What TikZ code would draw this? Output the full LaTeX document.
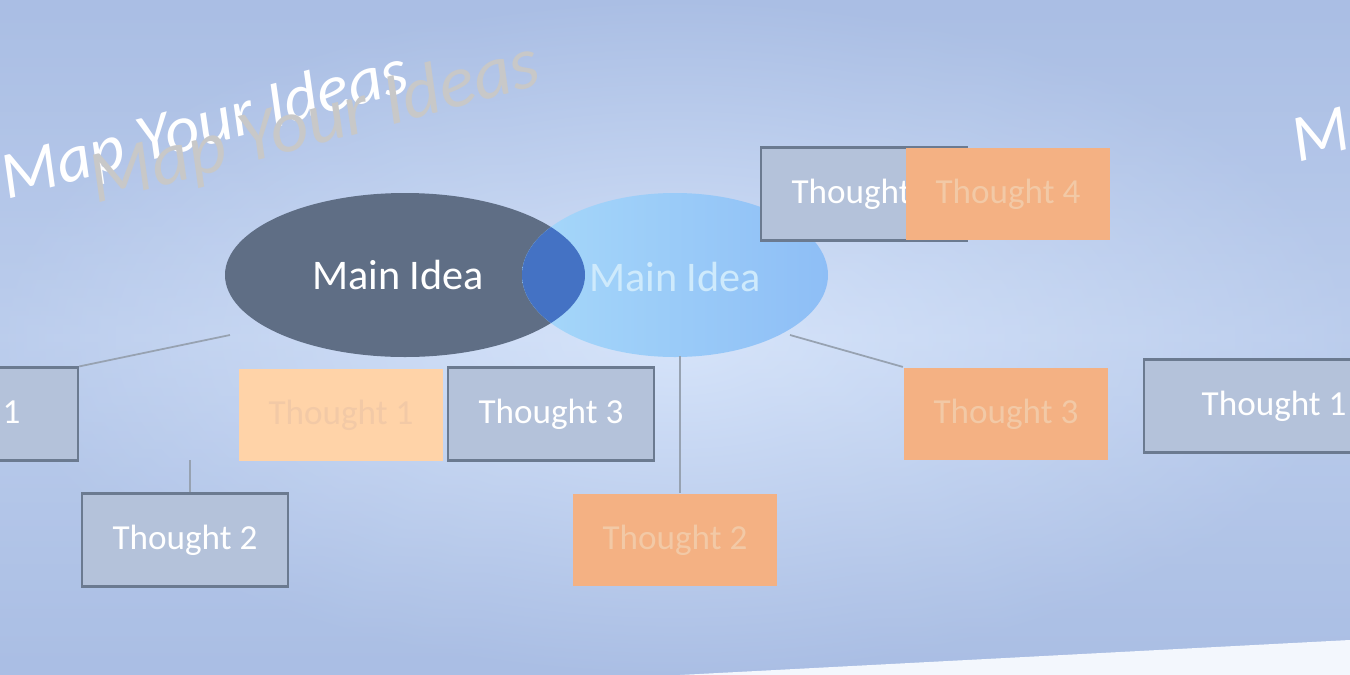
\documentclass[tikz,border=0pt]{standalone}
\usepackage{fontspec}
\setmainfont{Carlito}
\usetikzlibrary{positioning}
\definecolor{bgblue}{HTML}{AABEE4}
\definecolor{bglight}{HTML}{D6E4FA}
\definecolor{darkidea}{HTML}{5F6E85}
\definecolor{skyidea}{HTML}{A6D8FA}
\definecolor{skyidea2}{HTML}{8EBEF6}
\definecolor{overlap}{HTML}{4472C4}
\definecolor{boxgray}{HTML}{B4C2DA}
\definecolor{boxline}{HTML}{6B7A90}
\definecolor{orng}{HTML}{F4B183}
\definecolor{orngl}{HTML}{FFD3A8}
\definecolor{orngtxt}{HTML}{F2C9A6}
\definecolor{titlegray}{HTML}{C8C8C8}
\begin{document}
\begin{tikzpicture}[x=0.01cm,y=-0.01cm,line width=0.6pt,
  gbox/.style={draw=boxline,fill=boxgray,minimum width=2.06cm,minimum height=0.93cm,font=\fontsize{10}{10}\selectfont,text=white},
  obox/.style={fill=orng,minimum width=2.04cm,minimum height=0.92cm,font=\fontsize{10}{10}\selectfont,text=orngtxt},
  link/.style={draw=boxline!70,line width=0.5pt}]
\useasboundingbox (0,0) rectangle (1350,675);
\shade[top color=bgblue,bottom color=bgblue,middle color=bglight] (0,0) rectangle (1350,675);
\shade[inner color=bglight,outer color=bgblue,opacity=0.6] (0,0) rectangle (1350,675);
\fill[white!70!bglight] (680,675) -- (1350,640) -- (1350,675) -- cycle;
% title
\node[rotate=15,text=white,font=\itshape\fontsize{19}{19}\selectfont] (ttl2) at (205,128) {Map Your Ideas};
\node[rotate=15,text=titlegray,font=\itshape\fontsize{21}{21}\selectfont] (ttl) at (315,125) {Map Your Ideas};
\node[rotate=15,text=white,font=\itshape\fontsize{19}{19}\selectfont,anchor=west] (ttl3) at (1282,150) {Map};
% ideas
\fill[darkidea] (405,275) ellipse (180 and 82);
\shade[left color=skyidea,right color=skyidea2] (675,275) ellipse (153 and 82);
\begin{scope}
\clip (405,275) ellipse (180 and 82);
\fill[overlap] (675,275) ellipse (153 and 82);
\end{scope}
\node[text=white,font=\fontsize{12}{12}\selectfont] (main) at (398,275) {Main Idea};
\node[text=skyidea!55!white,font=\fontsize{12}{12}\selectfont] (mainb) at (675,277) {Main Idea};
% thoughts
\node[gbox] (g4) at (864,194) {Thought 4};
\node[obox] (o4) at (1008,194) {Thought 4};
\node[gbox] (g3) at (551,414) {Thought 3};
\node[gbox] (g2) at (185,540) {Thought 2};
\node[gbox,anchor=west,minimum width=2.6cm] (g1) at (-183,414) {Thought 1};
\node[gbox,anchor=west,minimum width=2.6cm] (g1b) at (1143,406) {Thought 1};
\node[obox,fill=orngl] (o1) at (341,415) {Thought 1};
\node[obox] (o3) at (1006,414) {Thought 3};
\node[obox] (o2) at (675,540) {Thought 2};
% links
\coordinate (d1) at (230,335);
\coordinate (d2) at (190,460);
\coordinate (b1) at (790,335);
\coordinate (b2) at (680,356);
\draw[link] (d1) -- (g1.north east);
\draw[link] (d2) -- (g2.north -| d2);
\draw[link] (b1) -- (o3.north west);
\draw[link] (b2) -- (o2.north -| b2);
\end{tikzpicture}
\end{document}
